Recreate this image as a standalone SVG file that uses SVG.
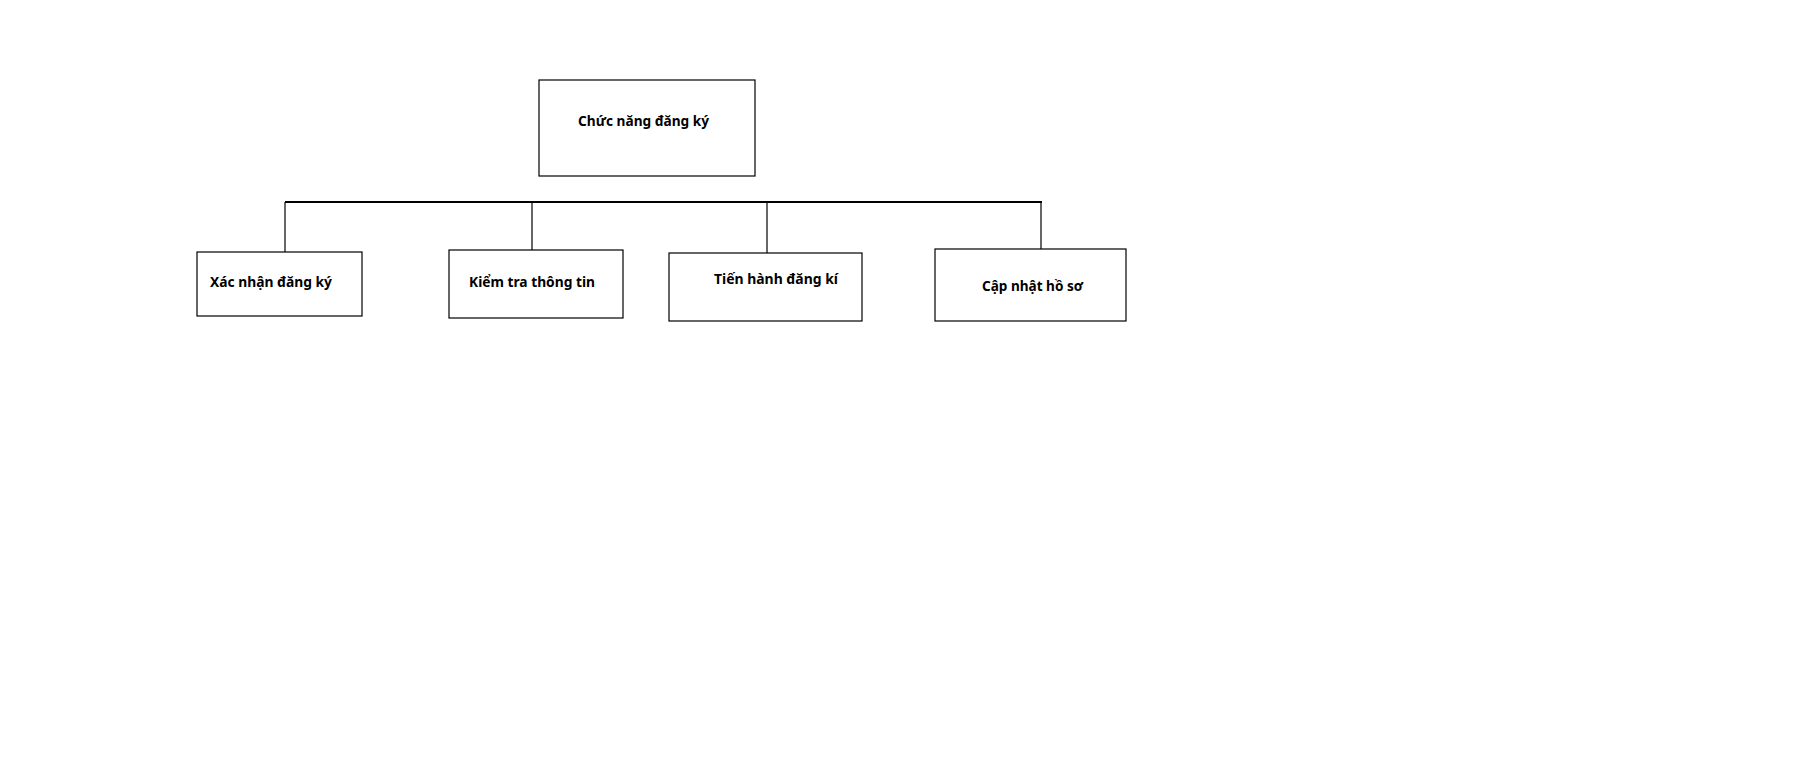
<svg xmlns="http://www.w3.org/2000/svg" width="1795" height="782" viewBox="0 0 1795 782">
<style>
.box{fill:#fff;stroke:#000;stroke-width:1.2}
.lbl{font-family:"Noto Sans","Open Sans",sans-serif;font-weight:bold;font-size:15px;fill:#000}
.bus{stroke:#000;stroke-width:2;fill:none}
.tick{stroke:#000;stroke-width:1.2;fill:none}
</style>
<rect width="1795" height="782" fill="#fff"/>
<g id="connectors">
<line class="bus" x1="285" y1="202" x2="1042" y2="202"/>
<line class="tick" x1="285" y1="202" x2="285" y2="252"/>
<line class="tick" x1="532" y1="202" x2="532" y2="250"/>
<line class="tick" x1="767" y1="202" x2="767" y2="253"/>
<line class="tick" x1="1041" y1="202" x2="1041" y2="249"/>
</g>
<g id="root">
<rect class="box" x="539" y="80" width="216" height="96"/>
<text class="lbl" x="578" y="126" textLength="131" lengthAdjust="spacingAndGlyphs">Chức năng đăng ký</text>
</g>
<g id="xacnhan">
<rect class="box" x="197" y="252" width="165" height="64"/>
<text class="lbl" x="210" y="287" textLength="122" lengthAdjust="spacingAndGlyphs">Xác nhận đăng ký</text>
</g>
<g id="kiemtra">
<rect class="box" x="449" y="250" width="174" height="68"/>
<text class="lbl" x="469" y="287" textLength="126" lengthAdjust="spacingAndGlyphs">Kiểm tra thông tin</text>
</g>
<g id="tienhanh">
<rect class="box" x="669" y="253" width="193" height="68"/>
<text class="lbl" x="714" y="284" textLength="124" lengthAdjust="spacingAndGlyphs">Tiến hành đăng kí</text>
</g>
<g id="capnhat">
<rect class="box" x="935" y="249" width="191" height="72"/>
<text class="lbl" x="982" y="291" textLength="101" lengthAdjust="spacingAndGlyphs">Cập nhật hồ sơ</text>
</g>
</svg>
